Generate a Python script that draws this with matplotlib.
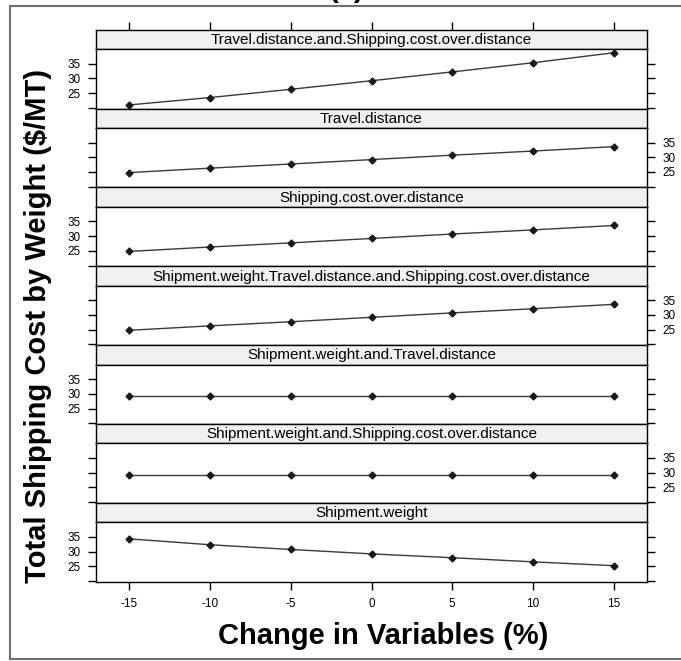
import matplotlib
matplotlib.use("Agg")
import matplotlib.pyplot as plt
from matplotlib.lines import Line2D

plt.rcParams['font.family'] = ['Liberation Sans', 'DejaVu Sans']

# ---- data ----
x_change = [-15, -10, -5, 0, 5, 10, 15]
panel_names = [
    "Travel.distance.and.Shipping.cost.over.distance",
    "Travel.distance",
    "Shipping.cost.over.distance",
    "Shipment.weight.Travel.distance.and.Shipping.cost.over.distance",
    "Shipment.weight.and.Travel.distance",
    "Shipment.weight.and.Shipping.cost.over.distance",
    "Shipment.weight",
]
travel_and_cost = [21.0, 23.5, 26.3, 29.2, 32.2, 35.3, 38.7]
travel = [24.8, 26.3, 27.7, 29.2, 30.7, 32.1, 33.6]
cost = [24.8, 26.3, 27.7, 29.2, 30.7, 32.1, 33.6]
weight_travel_cost = [24.8, 26.3, 27.7, 29.2, 30.7, 32.1, 33.6]
weight_travel = [29.2, 29.2, 29.2, 29.2, 29.2, 29.2, 29.2]
weight_cost = [29.2, 29.2, 29.2, 29.2, 29.2, 29.2, 29.2]
weight = [34.3, 32.3, 30.7, 29.2, 27.9, 26.5, 25.2]
series = [travel_and_cost, travel, cost, weight_travel_cost,
          weight_travel, weight_cost, weight]
y_ticks = [20, 25, 30, 35]
y_ticklabels = ["", "25", "30", "35"]
x_ticks = [-15, -10, -5, 0, 5, 10, 15]
x_ticklabels = ["-15", "-10", "-5", "0", "5", "10", "15"]

W, H = 681, 661
fig = plt.figure(figsize=(W / 100, H / 100), dpi=100)
fig.patch.set_facecolor("white")

# limits (lattice-style 7% extension)
allv = [v for s in series for v in s]
ymin, ymax = min(allv), max(allv)
yr = ymax - ymin
ylim = (ymin - 0.07 * yr, ymax + 0.07 * yr)
xr = max(x_change) - min(x_change)
xlim = (min(x_change) - 0.069 * xr, max(x_change) + 0.069 * xr)

left_px, right_px = 96, 647
top_px, bottom_px = 29.7, 581.7
n = len(panel_names)
period = (bottom_px - top_px) / n
strip_h = 19.4
panel_h = period - strip_h

def fx(px):
    return px / W

def fy(py):
    return 1 - py / H

axw = fx(right_px) - fx(left_px)
border_lw = 1.0
tick_kw = dict(direction="out", length=5.5, width=1.0, color="black")

for i, (name, vals) in enumerate(zip(panel_names, series)):
    s_top = top_px + i * period
    s_bot = s_top + strip_h
    p_bot = s_bot + panel_h
    # strip
    sax = fig.add_axes([fx(left_px), fy(s_bot), axw, strip_h / H])
    sax.set_facecolor("#f0f0f0")
    sax.set_xlim(xlim)
    sax.set_yticks([])
    for sp in sax.spines.values():
        sp.set_linewidth(border_lw)
    if i == 0:
        sax.xaxis.set_ticks_position("top")
        sax.set_xticks(x_ticks)
        sax.set_xticklabels([])
        sax.tick_params(axis="x", **tick_kw)
    else:
        sax.set_xticks([])
    sax.text(0.5, 0.47, name, transform=sax.transAxes, ha="center",
             va="center", fontsize=11, color="black")
    # panel
    ax = fig.add_axes([fx(left_px), fy(p_bot), axw, panel_h / H])
    ax.set_facecolor("white")
    ax.plot(x_change, vals, color="#3a3a3a", lw=1.0, zorder=2)
    ax.plot(x_change, vals, ls="none", marker="D", ms=3.5, color="#1a1a1a",
            zorder=3)
    ax.set_xlim(xlim)
    ax.set_ylim(ylim)
    for sp in ax.spines.values():
        sp.set_linewidth(border_lw)
    ax.set_yticks(y_ticks)
    ax.set_yticklabels(y_ticklabels)
    ax.tick_params(axis="y", left=True, right=True, pad=5.5,
                   labelsize=8.5, **tick_kw)
    if i % 2 == 0:
        ax.tick_params(axis="y", labelleft=True, labelright=False)
    else:
        ax.tick_params(axis="y", labelleft=False, labelright=True)
    if i == n - 1:
        ax.set_xticks(x_ticks)
        ax.set_xticklabels(x_ticklabels)
        ax.tick_params(axis="x", pad=6, labelsize=8.5, **tick_kw)
    else:
        ax.set_xticks([])

# axis titles
fig.text(fx(383), fy(636), "Change in Variables (%)", ha="center",
         va="center", fontsize=21, fontweight="bold")
fig.text(fx(38), fy(326), "Total Shipping Cost by Weight ($/MT)",
         ha="center", va="center", rotation=90, fontsize=21,
         fontweight="bold")

# partially visible panel title above
fig.text(fx(346), 1 + 3 / H, "(a)", ha="center", va="baseline",
         fontsize=21, fontweight="bold")

# outer frame (gray)
frame_c = "#707070"
fig.add_artist(Line2D([fx(10), 1.0], [fy(6), fy(6)], color=frame_c, lw=1.5,
                      transform=fig.transFigure))
fig.add_artist(Line2D([fx(10), fx(10)], [fy(6), fy(659)], color=frame_c,
                      lw=1.5, transform=fig.transFigure))
fig.add_artist(Line2D([fx(10), 1.0], [fy(659), fy(659)], color=frame_c,
                      lw=1.5, transform=fig.transFigure))

fig.savefig("out.png", dpi=100)
